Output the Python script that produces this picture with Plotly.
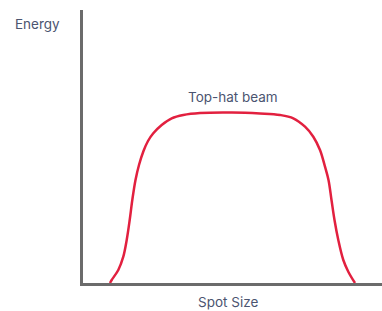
import plotly.graph_objects as go

# Curve samples (arbitrary units)
spot_size = [27, 28.7, 35.3, 40.3, 43.7, 46.7, 49.3, 52.5, 56, 60.5, 65, 70.3, 78.7, 88.7, 100.3, 117,
             149, 177, 197, 210.3, 222, 230.3, 237, 242, 245.5, 248.5, 251.5, 255.3, 260.3, 265.3, 272]
energy = [0, 3, 13, 26.3, 43, 63, 83, 103, 118, 132, 142, 149.7, 158, 164.7, 168, 170,
          170.5, 169.5, 168, 164.7, 156.3, 146.3, 133, 116.3, 103, 83, 63, 43, 23, 11.3, 0]

series_label = "Top-hat beam"
x_title = "Spot Size"
y_title = "Energy"

text_color = "#4b5470"
font_family = "Inter, Lato, sans-serif"

fig = go.Figure()
fig.add_trace(go.Scatter(
    x=spot_size, y=energy, mode="lines",
    line=dict(color="#e2203f", width=2.5, shape="spline", smoothing=1),
    hoverinfo="skip", showlegend=False,
))

fig.add_annotation(x=150, y=max(energy), text=series_label, showarrow=False,
                   yanchor="bottom", yshift=6, xref="x", yref="y",
                   font=dict(size=13.5, color=text_color, family=font_family))
fig.add_annotation(x=0.485, y=0, xref="paper", yref="paper", text=x_title,
                   showarrow=False, yanchor="top", yshift=-9,
                   font=dict(size=13.5, color=text_color, family=font_family))
fig.add_annotation(x=-0.07, y=0.95, xref="paper", yref="paper", text=y_title,
                   showarrow=False, xanchor="right", yanchor="middle",
                   font=dict(size=13.5, color=text_color, family=font_family))

fig.update_layout(
    width=382, height=311,
    margin=dict(l=83, r=0, t=10, b=28),
    paper_bgcolor="white", plot_bgcolor="white",
    xaxis=dict(range=[0, 299], showgrid=False, zeroline=False, showticklabels=False,
               ticks="", showline=True, linecolor="#6b6b6b", linewidth=2.5, fixedrange=True),
    yaxis=dict(range=[0, 273], showgrid=False, zeroline=False, showticklabels=False,
               ticks="", showline=True, linecolor="#6b6b6b", linewidth=2.5, fixedrange=True),
)

fig.write_html("out.html", config={"displayModeBar": False},
               post_script="document.body.style.margin='0';document.body.style.overflow='hidden';")
